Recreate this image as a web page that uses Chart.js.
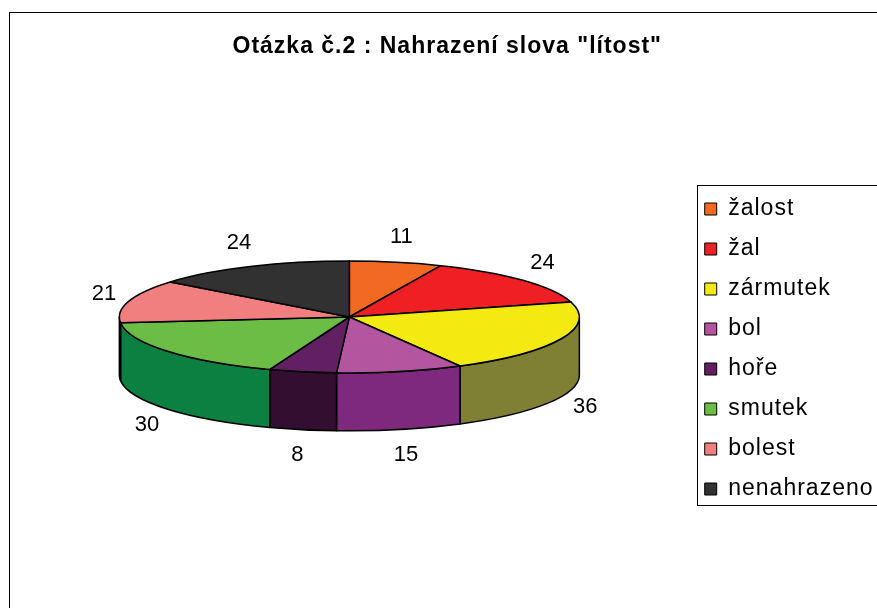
<!DOCTYPE html>
<html>
<head>
<meta charset="utf-8">
<script src="https://cdn.jsdelivr.net/npm/chart.js@4/dist/chart.umd.min.js"></script>
<style>
  body { margin: 0; background: #fff; }
  #wrap { width: 877px; height: 608px; position: relative; }
</style>
</head>
<body>
<div id="wrap"><canvas id="chart"></canvas></div>
<script>
// data
const categories = ['žalost', 'žal', 'zármutek', 'bol', 'hoře', 'smutek', 'bolest', 'nenahrazeno'];
const counts = [11, 24, 36, 15, 8, 30, 21, 24];

// styles
const topColors = ['#F26A21', '#EE2024', '#F2EA10', '#B455A0', '#622063', '#6CBD45', '#F27F7F', '#313131'];
const sideColors = ['#8A3A12', '#8A1214', '#808035', '#7E287E', '#330E31', '#0C8040', '#A04848', '#1A1A1A'];
const TILT = 0.243;   // ellipse height / width
const DEPTH = 0.252;  // wall height / radius
const FONT = "'Liberation Sans', Arial, sans-serif";

const spacingPlugin = {
    id: 'spacing',
    beforeLayout(chart) { chart.ctx.letterSpacing = '1px'; },
    beforeDraw(chart) {
        const ctx = chart.ctx;
        ctx.letterSpacing = '1px';
        // outer frame of the chart object
        ctx.save();
        ctx.strokeStyle = '#000';
        ctx.lineWidth = 1;
        ctx.strokeRect(9.5, 12.5, 1000, 1000);
        ctx.restore();
    },
    afterDraw(chart) {
        const ctx = chart.ctx;
        const legend = chart.legend;
        const boxes = legend.legendHitBoxes;
        if (!boxes || !boxes.length) return;
        const top = boxes[0].top - 12.5;
        const last = boxes[boxes.length - 1];
        const bottom = last.top + last.height + 4.5;
        ctx.save();
        ctx.strokeStyle = '#000';
        ctx.lineWidth = 1;
        ctx.strokeRect(Math.round(legend.left + 9) + 0.5, Math.round(top) + 0.5, 400, Math.round(bottom - top));
        ctx.restore();
    }
};

const pie3dPlugin = {
    id: 'pie3d',
    beforeDatasetsDraw(chart) {
        const ctx = chart.ctx;
        const arcs = chart.getDatasetMeta(0).data;
        if (!arcs.length) return false;
        const {x: cx, y: cy, outerRadius: r} = arcs[0].getProps(['x', 'y', 'outerRadius'], true);
        const ry = r * TILT;
        const h = r * DEPTH;

        ctx.save();
        ctx.letterSpacing = '0px';
        ctx.strokeStyle = '#000';
        ctx.lineWidth = 1.5;
        ctx.lineJoin = 'round';

        // front walls (canvas angles 0..PI face the viewer)
        arcs.forEach((arc, i) => {
            const {startAngle, endAngle} = arc.getProps(['startAngle', 'endAngle'], true);
            const a = Math.max(startAngle, 0);
            const b = Math.min(endAngle, Math.PI);
            if (b <= a) return;
            ctx.beginPath();
            ctx.ellipse(cx, cy, r, ry, 0, a, b);
            ctx.lineTo(cx + r * Math.cos(b), cy + ry * Math.sin(b) + h);
            ctx.ellipse(cx, cy + h, r, ry, 0, b, a, true);
            ctx.closePath();
            ctx.fillStyle = sideColors[i];
            ctx.fill();
            ctx.stroke();
        });

        // top face
        arcs.forEach((arc, i) => {
            const {startAngle, endAngle} = arc.getProps(['startAngle', 'endAngle'], true);
            ctx.beginPath();
            ctx.moveTo(cx, cy);
            ctx.ellipse(cx, cy, r, ry, 0, startAngle, endAngle);
            ctx.closePath();
            ctx.fillStyle = topColors[i];
            ctx.fill();
            ctx.stroke();
        });

        // value labels
        ctx.fillStyle = '#000';
        ctx.font = '22px ' + FONT;
        ctx.textAlign = 'center';
        ctx.textBaseline = 'middle';
        arcs.forEach((arc, i) => {
            const {startAngle, endAngle} = arc.getProps(['startAngle', 'endAngle'], true);
            const mid = (startAngle + endAngle) / 2;
            const c = Math.cos(mid), s = Math.sin(mid);
            const px = cx + r * c + 26 * c;
            const py = cy + ry * s + (s > 0 ? h : 0) + 26 * s;
            ctx.fillText(String(counts[i]), px, py);
        });
        ctx.restore();
        return false;
    }
};

new Chart(document.getElementById('chart'), {
    type: 'pie',
    data: {
        labels: categories,
        datasets: [{
            data: counts,
            backgroundColor: topColors,
            borderColor: '#000',
            borderWidth: 1
        }]
    },
    options: {
        responsive: true,
        maintainAspectRatio: false,
        animation: false,
        events: [],
        radius: 230,
        layout: {
            padding: {left: 11, right: -6.5, top: 0, bottom: 54.6}
        },
        plugins: {
            tooltip: {enabled: false},
            title: {
                display: true,
                text: 'Otázka č.2 : Nahrazení slova "lítost"',
                color: '#000',
                font: {family: FONT, size: 23, weight: 'bold', lineHeight: 1.2},
                padding: {top: 33, bottom: 20}
            },
            legend: {
                position: 'right',
                fullSize: false,
                title: {
                    display: true,
                    text: '',
                    font: {size: 10, lineHeight: 1},
                    padding: {top: 0, bottom: 54}
                },
                labels: {
                    color: '#000',
                    boxWidth: 12,
                    boxHeight: 12,
                    padding: 17,
                    font: {family: FONT, size: 23, lineHeight: '22px'}
                }
            }
        }
    },
    plugins: [spacingPlugin, pie3dPlugin]
});
</script>
</body>
</html>
